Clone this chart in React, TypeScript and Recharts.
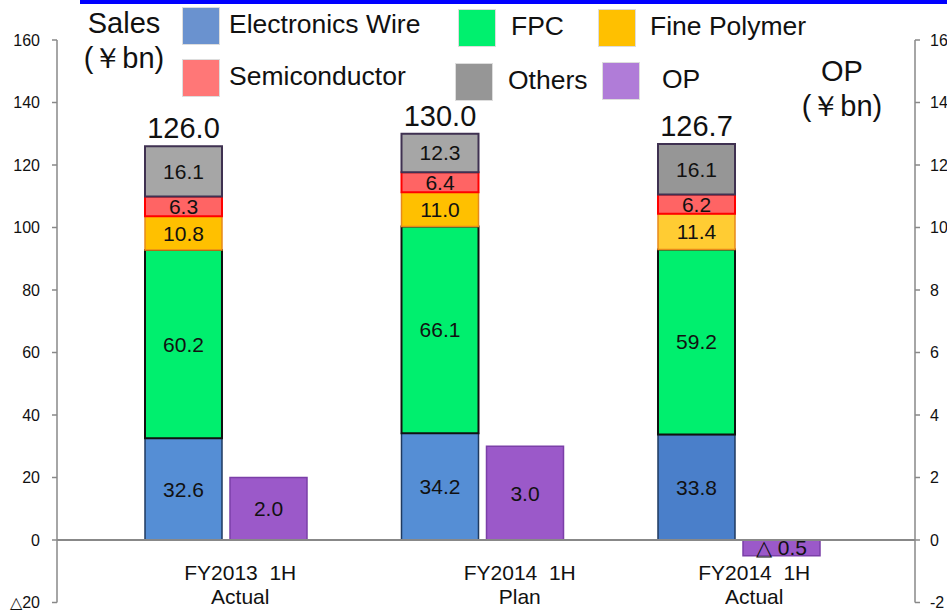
import {
  Bar,
  BarChart,
  Cell,
  LabelList,
  ReferenceLine,
  XAxis,
  YAxis,
} from "recharts"

const categories = ["FY2013  1H|Actual", "FY2014  1H|Plan", "FY2014  1H|Actual"]
const electronicsWire = [32.6, 34.2, 33.8]
const fpc = [60.2, 66.1, 59.2]
const finePolymer = [10.8, 11.0, 11.4]
const semiconductor = [6.3, 6.4, 6.2]
const others = [16.1, 12.3, 16.1]
const totals = [126.0, 130.0, 126.7]
const op = [2.0, 3.0, -0.5]

const salesTicks = [-20, 0, 20, 40, 60, 80, 100, 120, 140, 160]
const opTicks = [-2, 0, 2, 4, 6, 8, 10, 12, 14, 16]

// per-bar shading (the last column is drawn a touch darker in the source)
const EW_FILL = ["#558ED5", "#558ED5", "#4A7FCA"]
const FP_FILL = ["#FFC000", "#FFC000", "#FFCC33"]
const OTHERS_FILL = ["#A6A6A6", "#A6A6A6", "#969696"]
const LABEL_DX = [14, 37, 15]

const FONT = "'Liberation Sans', Arial, sans-serif"

const data = categories.map((c, i) => ({
  name: c,
  ew: electronicsWire[i],
  fpc: fpc[i],
  fp: finePolymer[i],
  semi: semiconductor[i],
  others: others[i],
  total: totals[i],
  op: op[i],
}))

const fmt = (v: unknown) => {
  const n = Number(v)
  return n < 0 ? `△ ${Math.abs(n).toFixed(1)}` : n.toFixed(1)
}

function CategoryTick(props: any) {
  const { x, payload, index } = props
  const [l1, l2] = String(payload.value).split("|")
  const cx = x + (LABEL_DX[index] ?? 0)
  return (
    <g>
      <text x={cx} y={580} textAnchor="middle" fontSize={21} fill="#111" fontFamily={FONT} style={{ whiteSpace: "pre" }}>
        {l1}
      </text>
      <text x={cx} y={604} textAnchor="middle" fontSize={21} fill="#111" fontFamily={FONT}>
        {l2}
      </text>
    </g>
  )
}

const legendItems = [
  { label: "Electronics Wire", color: "#6A92CF", x: 182, y: 7, tx: 229 },
  { label: "Semiconductor", color: "#FF7777", x: 182, y: 59, tx: 229 },
  { label: "FPC", color: "#00F06E", x: 458, y: 9, tx: 511 },
  { label: "Fine Polymer", color: "#FFC000", x: 598, y: 9, tx: 650 },
  { label: "Others", color: "#969696", x: 455, y: 63, tx: 508 },
  { label: "OP", color: "#B07CD8", x: 602, y: 62, tx: 662 },
]

const labelStyle = { fontSize: 21, fill: "#111", fontFamily: FONT }

export default function App() {
  return (
    <div style={{ position: "absolute", left: 0, top: 0, width: 947, height: 611, background: "#fff", fontFamily: FONT, overflow: "hidden" }}>
      <div style={{ position: "absolute", left: 80, top: 0, width: 867, height: 4, background: "#0000FF" }} />
      <BarChart
        width={947}
        height={611}
        data={data}
        margin={{ top: 40, right: 0, left: 0, bottom: 0 }}
        barSize={77}
        barGap={8}
      >
        <XAxis
          dataKey="name"
          height={8.5}
          axisLine={false}
          tickLine={false}
          padding={{ left: 41, right: 47.5 }}
          tick={<CategoryTick />}
          interval={0}
        />
        <YAxis
          yAxisId="left"
          domain={[-20, 160]}
          ticks={salesTicks}
          width={57}
          stroke="#888"
          strokeWidth={1.5}
          tickSize={5}
          tickMargin={12}
          tick={{ fontSize: 16, fill: "#111", fontFamily: FONT }}
          tickFormatter={(v: number) => (v < 0 ? `△${Math.abs(v)}` : String(v))}
          interval={0}
        />
        <YAxis
          yAxisId="right"
          orientation="right"
          domain={[-2, 16]}
          ticks={opTicks}
          width={32}
          stroke="#888"
          strokeWidth={1.5}
          tickSize={5}
          tickMargin={10}
          tick={{ fontSize: 16, fill: "#111", fontFamily: FONT, textAnchor: "start" }}
          interval={0}
        />
        <ReferenceLine yAxisId="left" y={0} stroke="#888" strokeWidth={2} />
        <Bar yAxisId="left" dataKey="ew" stackId="s" stroke="#1F3A60" strokeWidth={1.5} isAnimationActive={false}>
          {data.map((_, i) => (
            <Cell key={i} fill={EW_FILL[i]} />
          ))}
          <LabelList dataKey="ew" position="center" formatter={fmt} style={labelStyle} />
        </Bar>
        <Bar yAxisId="left" dataKey="fpc" stackId="s" fill="#00EF6E" stroke="#111" strokeWidth={2} isAnimationActive={false}>
          <LabelList dataKey="fpc" position="center" formatter={fmt} style={labelStyle} />
        </Bar>
        <Bar yAxisId="left" dataKey="fp" stackId="s" stroke="#E8891A" strokeWidth={1.5} isAnimationActive={false}>
          {data.map((_, i) => (
            <Cell key={i} fill={FP_FILL[i]} />
          ))}
          <LabelList dataKey="fp" position="center" formatter={fmt} style={labelStyle} />
        </Bar>
        <Bar yAxisId="left" dataKey="semi" stackId="s" fill="#FF6464" stroke="#FF0000" strokeWidth={2} isAnimationActive={false}>
          <LabelList dataKey="semi" position="center" formatter={fmt} style={labelStyle} />
        </Bar>
        <Bar yAxisId="left" dataKey="others" stackId="s" stroke="#3F3151" strokeWidth={2} isAnimationActive={false}>
          {data.map((_, i) => (
            <Cell key={i} fill={OTHERS_FILL[i]} />
          ))}
          <LabelList dataKey="others" position="center" formatter={fmt} style={labelStyle} />
          <LabelList dataKey="total" position="top" offset={8} formatter={fmt} style={{ fontSize: 29, fill: "#111", fontFamily: FONT }} />
        </Bar>
        <Bar yAxisId="right" dataKey="op" fill="#9B59C9" stroke="#7B3FA8" strokeWidth={1.5} isAnimationActive={false}>
          <LabelList dataKey="op" position="center" formatter={fmt} style={labelStyle} />
        </Bar>
      </BarChart>

      {legendItems.map((it) => (
        <div key={it.label}>
          <div
            style={{
              position: "absolute",
              left: it.x,
              top: it.y,
              width: 36,
              height: 36,
              background: it.color,
              border: "1px solid #ddd",
            }}
          />
          <div
            style={{
              position: "absolute",
              left: it.tx,
              top: it.y + 2,
              fontSize: 26.5,
              lineHeight: "30px",
              color: "#111",
              whiteSpace: "nowrap",
            }}
          >
            {it.label}
          </div>
        </div>
      ))}

      <div style={{ position: "absolute", left: 79, top: 6, width: 90, textAlign: "center", fontSize: 29, lineHeight: "35px", color: "#111" }}>
        Sales
        <br />
        (￥bn)
      </div>
      <div style={{ position: "absolute", left: 797, top: 54, width: 90, textAlign: "center", fontSize: 29, lineHeight: "35px", color: "#111" }}>
        OP
        <br />
        (￥bn)
      </div>
    </div>
  )
}
